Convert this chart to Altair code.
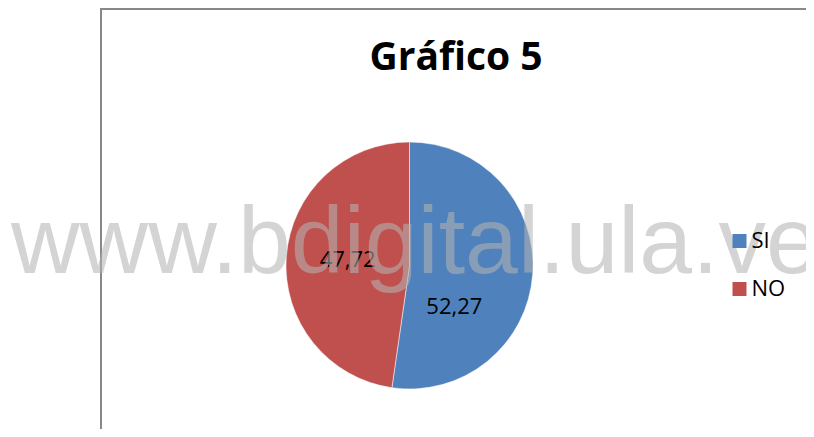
import altair as alt
import pandas as pd

# ---- data ----
categorias = ["SI", "NO"]
valores = [52.27, 47.72]
colores = ["#4F81BD", "#C0504D"]
titulo = ["Gráfico 5"]
marca_agua = ["www.bdigital.ula.ve"]

df = pd.DataFrame({"categoria": categorias, "valor": valores})
total = sum(valores)

# ---- layout (pixels, relative to the plot origin) ----
W, H = 798, 421
CX, CY = 401.5, 257.5
R = 123.5

escala_theta = alt.Scale(domain=[0, total], zero=True, nice=False)

stacked = alt.Chart(df).transform_stack(
    stack="valor",
    groupby=[],
    as_=["v0", "v1"],
    sort=[alt.SortField("categoria", order="descending")],
).transform_calculate(
    mid="(datum.v0 + datum.v1) / 2",
    etiqueta="replace(format(datum.valor, '.2f'), '.', ',')",
)

pie = stacked.mark_arc(radius=R, stroke="#ffffff", strokeWidth=0.5).encode(
    theta=alt.Theta("v0:Q", scale=escala_theta),
    theta2="v1:Q",
    color=alt.Color(
        "categoria:N",
        scale=alt.Scale(domain=categorias, range=colores),
        sort=categorias,
        legend=alt.Legend(
            title=None,
            orient="none",
            direction="vertical",
            legendX=720.5,
            legendY=222,
            padding=0,
            symbolType="square",
            symbolSize=196,
            symbolStrokeWidth=0,
            symbolOpacity=1,
            labelFont="Open Sans",
            labelFontSize=22,
            labelColor="#000000",
            labelOffset=1,
            rowPadding=26,
        ),
    ),
    x=alt.value(CX),
    y=alt.value(CY),
)

def etiqueta(cat, dx, dy):
    return stacked.transform_filter(alt.datum.categoria == cat).mark_text(
        radius=60, dx=dx, dy=dy, font="Open Sans", fontSize=22, color="#000000",
        align="center", baseline="middle",
    ).encode(
        theta=alt.Theta("mid:Q", scale=escala_theta),
        text="etiqueta:N",
        x=alt.value(CX),
        y=alt.value(CY),
    )

lab_si = etiqueta("SI", -15, 37)
lab_no = etiqueta("NO", -2, -1)

titulo_mark = alt.Chart(pd.DataFrame({"t": titulo})).mark_text(
    font="Open Sans", fontWeight="bold", fontSize=39, color="#000000",
    align="center", baseline="alphabetic",
).encode(text="t:N", x=alt.value(448), y=alt.value(62))

marca = alt.Chart(pd.DataFrame({"m": marca_agua})).mark_text(
    font="Liberation Sans", fontSize=95, color="#B4B4B4", opacity=0.57,
    align="left", baseline="alphabetic",
).encode(text="m:N", x=alt.value(3), y=alt.value(265))

marco = pd.DataFrame({"a": [0]})
borde_izq = alt.Chart(marco).mark_rule(color="#888888", strokeWidth=2).encode(
    x=alt.value(93), y=alt.value(0), y2=alt.value(H)
)
borde_sup = alt.Chart(marco).mark_rule(color="#888888", strokeWidth=2).encode(
    x=alt.value(92), x2=alt.value(W), y=alt.value(1)
)

chart = alt.layer(
    borde_izq, borde_sup, pie, lab_si, lab_no, titulo_mark, marca
).properties(
    width=W, height=H, padding=0,
    autosize=alt.AutoSizeParams(type="none"),
).configure_view(stroke="transparent")

chart.save("out.html", embed_options={"renderer": "svg", "actions": False})
